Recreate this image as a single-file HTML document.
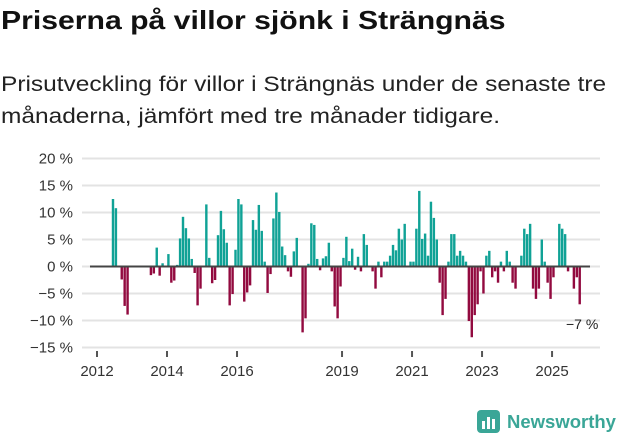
<!DOCTYPE html>
<html><head><meta charset="utf-8"><style>
body{margin:0;width:631px;height:439px;background:#fff;font-family:"Liberation Sans",sans-serif;overflow:hidden;position:relative}
#title{position:absolute;left:1px;top:5px;font-size:26px;font-weight:bold;color:#111;white-space:nowrap;transform:scaleX(1.16);transform-origin:0 0}
#sub{position:absolute;left:1px;top:69px;font-size:21px;line-height:32px;color:#222;white-space:nowrap;transform:scaleX(1.165);transform-origin:0 0}
svg{position:absolute;left:0;top:0}
</style></head><body>
<div id="title">Priserna på villor sjönk i Strängnäs</div>
<div id="sub">Prisutveckling för villor i Strängnäs under de senaste tre<br>månaderna, jämfört med tre månader tidigare.</div>
<svg id="chart" width="631" height="439"></svg>
<script>
const yTicks=[20,15,10,5,0,-5,-10,-15];
const xTickYears=[2012,2014,2016,2019,2021,2023,2025];
const monthIndex=[5,6,8,9,10,18,19,20,21,22,24,25,26,27,28,29,30,31,32,33,34,35,37,38,39,40,41,42,43,44,45,46,47,48,49,50,51,52,53,54,55,56,57,58,59,60,61,62,63,64,65,66,67,68,70,71,72,73,74,75,76,77,78,79,80,81,82,83,84,85,86,87,88,89,90,91,92,94,95,96,97,98,99,100,101,102,103,104,105,107,108,109,110,111,112,113,114,115,116,117,118,119,120,121,122,123,124,125,126,127,128,129,130,131,132,133,134,135,136,137,138,139,140,141,142,143,145,146,147,148,149,150,151,152,153,154,155,156,158,159,160,161,163,164,165];
const values=[12.5,10.8,-2.4,-7.3,-8.9,-1.6,-1.3,3.5,-1.7,0.6,2.3,-3.0,-2.6,0.3,5.2,9.2,7.1,5.2,1.4,-1.2,-7.2,-4.1,11.5,1.6,-3.1,-2.5,5.8,10.3,6.9,4.4,-7.2,-5.1,3.1,12.5,11.5,-6.5,-4.8,-3.5,8.6,6.8,11.4,6.6,0.9,-4.9,-1.4,8.9,13.7,10.1,3.7,2.1,-0.9,-1.9,2.8,5.3,-12.2,-9.6,0.5,8.0,7.7,1.4,-0.7,1.5,1.9,4.4,-0.9,-7.4,-9.6,-3.7,1.6,5.5,1.0,3.3,-0.6,1.8,-0.9,6.0,4.0,-0.9,-4.1,0.9,-2.0,0.9,0.9,2.0,4.0,3.0,7.0,5.0,7.9,0.9,0.9,7.0,14.0,5.1,6.1,2.0,12.0,9.0,5.0,-3.0,-9.0,-6.0,0.9,6.0,6.0,2.0,2.9,2.0,0.9,-10.1,-13.1,-9.0,-7.0,-0.9,-5.0,2.0,2.9,-2.0,-0.9,-3.0,0.9,-0.9,2.9,0.9,-3.0,-4.1,2.0,7.0,6.0,7.9,-4.1,-6.0,-4.1,5.0,0.9,-3.0,-6.0,-2.0,7.9,7.0,6.0,-0.9,-4.1,-2.0,-7.0];
const lastLabel="−7 %";
const NS="http://www.w3.org/2000/svg";
const svg=document.getElementById('chart');
const x0=97, mw=2.917;
function xScale(m){return x0+m*mw;}
function yScale(v){return 266.5-v*5.4;}
function mk(t,a){const e=document.createElementNS(NS,t);for(const k in a)e.setAttribute(k,a[k]);svg.appendChild(e);return e;}
yTicks.forEach(v=>{
  const g=mk('line',{x1:82,x2:600,y1:yScale(v),y2:yScale(v),stroke:'#e3e3e3','stroke-width':2});
  
  
  const t=mk('text',{x:73,y:yScale(v)+5,'text-anchor':'end','font-size':15,fill:'#333'});
  t.textContent=(v<0?'−'+Math.abs(v):v)+' %';
  
  
});
monthIndex.forEach((m,i)=>{
  const v=values[i];
  const y=Math.min(yScale(0),yScale(v)), h=Math.abs(yScale(v)-yScale(0));
  const r=mk('rect',{x:xScale(m)+0.2,y:y,width:mw-0.5,height:h,fill:v>=0?'#10a296':'#920a3f'});
  
  
});
const zl=mk('line',{x1:90,x2:590,y1:yScale(0),y2:yScale(0),stroke:'#444','stroke-width':2});


xTickYears.forEach(yr=>{
  const x=xScale((yr-2012)*12);
  const l=mk('line',{x1:x,x2:x,y1:351,y2:357,stroke:'#555','stroke-width':2});
  
  
  const t=mk('text',{x:x,y:376,'text-anchor':'middle','font-size':15,fill:'#333'});
  t.textContent=yr;
  
  
});
const lt=mk('text',{x:xScale(monthIndex[monthIndex.length-1])+20,y:329,'text-anchor':'end','font-size':14,fill:'#222'});
lt.textContent=lastLabel;


</script>
<svg width="631" height="439">
<rect x="477" y="410" width="23" height="23" rx="4" fill="#3aa697"/>
<rect x="482" y="421" width="3" height="8" fill="#fff"/><rect x="487" y="417" width="3" height="12" fill="#fff"/><rect x="492" y="419" width="3" height="10" fill="#fff"/>
<text x="507" y="428" font-size="18.5" font-weight="bold" fill="#3aa697" font-family="Liberation Sans, sans-serif">Newsworthy</text>
</svg>
</body></html>
